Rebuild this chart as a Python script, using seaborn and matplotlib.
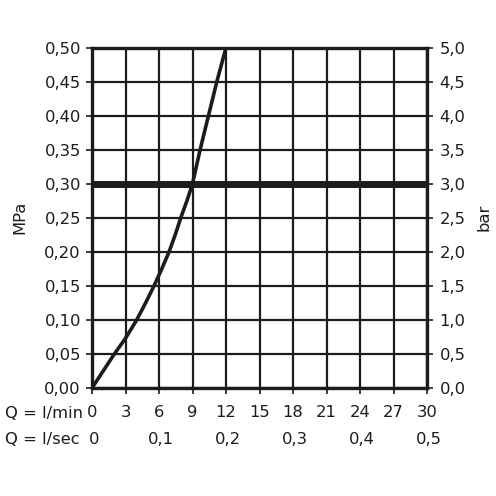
import numpy as np
import pandas as pd
import matplotlib
matplotlib.use("Agg")
import matplotlib.pyplot as plt
import matplotlib.transforms as mtransforms
import seaborn as sns

# Flow (l/min) vs pressure (MPa)
flow_lmin = [0, 1.0, 2.0, 3.0, 4.0, 4.8, 5.55, 6.25, 6.9, 7.45, 7.95, 8.5, 9.0, 9.68, 10.43, 11.18, 12.0]
pressure_mpa = [0, 0.025, 0.05, 0.073, 0.10, 0.125, 0.15, 0.175, 0.20, 0.225, 0.25, 0.275,
                0.30, 0.35, 0.40, 0.45, 0.50]

# Reference line and operating point
ref_pressure = 0.30
op_flow = 9

# Tick labels
mpa_ticks = [0.00, 0.05, 0.10, 0.15, 0.20, 0.25, 0.30, 0.35, 0.40, 0.45, 0.50]
mpa_labels = ['0,00', '0,05', '0,10', '0,15', '0,20', '0,25', '0,30', '0,35', '0,40', '0,45', '0,50']
bar_ticks = [0.0, 0.5, 1.0, 1.5, 2.0, 2.5, 3.0, 3.5, 4.0, 4.5, 5.0]
bar_labels = ['0,0', '0,5', '1,0', '1,5', '2,0', '2,5', '3,0', '3,5', '4,0', '4,5', '5,0']
lmin_ticks = [0, 3, 6, 9, 12, 15, 18, 21, 24, 27, 30]
lmin_labels = ['0', '3', '6', '9', '12', '15', '18', '21', '24', '27', '30']
lsec_pos = [0, 6, 12, 18, 24, 30]
lsec_labels = ['0', '0,1', '0,2', '0,3', '0,4', '0,5']

sns.set_theme(style="white")
plt.rcParams['font.family'] = ['DejaVu Sans']

ink = '#1c1c1c'
fs = 11.8

fig = plt.figure(figsize=(4.96, 4.96), dpi=100)
ax = fig.add_axes([0.1855, 0.2177, 0.6755, 0.6865])

# grid
for x in lmin_ticks:
    ax.axvline(x, color=ink, lw=1.6, zorder=1)
for y in mpa_ticks:
    ax.axhline(y, color=ink, lw=1.6, zorder=1)

# thick reference line
ax.axhline(ref_pressure, color=ink, lw=5, zorder=3)
# dashed drop line
ax.plot([op_flow, op_flow], [0, ref_pressure], color=ink, lw=1.4, ls=(0, (4, 3)), zorder=2)

df = pd.DataFrame({'Q': flow_lmin, 'P': pressure_mpa})
sns.lineplot(data=df, x='Q', y='P', color=ink, lw=2.6, ax=ax, zorder=4)

ax.set_xlim(0, 30)
ax.set_ylim(0, 0.5)
for s in ax.spines.values():
    s.set_color(ink)
    s.set_linewidth(2.4)

ax.set_yticks(mpa_ticks)
ax.set_yticklabels(mpa_labels)
ax.set_xticks(lmin_ticks)
ax.set_xticklabels(lmin_labels)
ax.tick_params(axis='both', direction='out', length=4, width=1.2, color=ink,
               labelsize=fs, labelcolor=ink, left=True, bottom=True)
ax.tick_params(axis='x', pad=8)
ax.tick_params(axis='y', pad=4)
ax.set_xlabel('')
ax.set_ylabel('MPa', fontsize=fs, color=ink, labelpad=12)

# right axis in bar
ax2 = ax.twinx()
ax2.set_ylim(0, 5)
ax2.set_yticks(bar_ticks)
ax2.set_yticklabels(bar_labels)
ax2.tick_params(axis='y', direction='out', length=4, width=1.2, color=ink,
                labelsize=fs, labelcolor=ink, right=True, pad=5)
ax2.set_ylabel('bar', fontsize=fs, color=ink, labelpad=8)
ax2.grid(False)
for s in ax2.spines.values():
    s.set_visible(False)

# bottom labels
trans = mtransforms.blended_transform_factory(ax.transData, fig.transFigure)
fig.text(0.01, 1 - 413 / 496, 'Q = l/min', fontsize=fs, color=ink, va='center', ha='left')
fig.text(0.01, 1 - 439 / 496, 'Q = l/sec', fontsize=fs, color=ink, va='center', ha='left')
for xp, lab in zip(lsec_pos, lsec_labels):
    ax.text(xp + 0.15, 1 - 439 / 496, lab, transform=trans, fontsize=fs, color=ink,
            ha='center', va='center', clip_on=False)

fig.savefig('out.png', dpi=100, facecolor='white')
